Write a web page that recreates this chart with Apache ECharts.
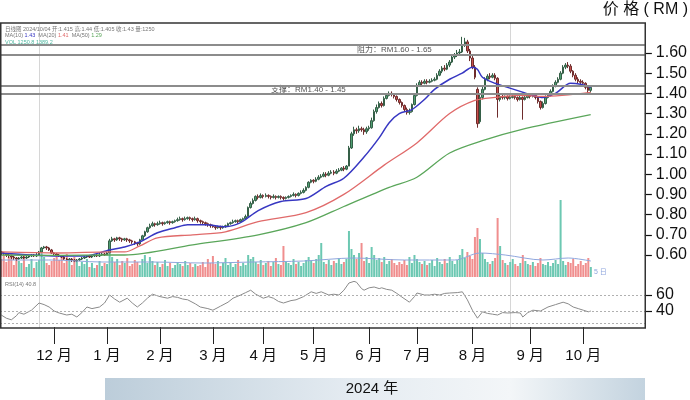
<!DOCTYPE html>
<html><head><meta charset="utf-8">
<script src="https://cdn.jsdelivr.net/npm/echarts@6/dist/echarts.min.js"></script>
<style>html,body{margin:0;padding:0;background:#fff}#c{width:690px;height:400px}</style>
</head><body><div id="c"></div>
<script>
const FONT = "'Liberation Sans','Noto Sans CJK SC',sans-serif";
const monthLabels = ['11 月','12 月','1 月','2 月','3 月','4 月','5 月','6 月','7 月','8 月','9 月','10 月'];
const monthTradingDays = [21,21,21,21,20,20,22,19,22,23,21,25];
const priceTicks = [0.6,0.7,0.8,0.9,1.0,1.1,1.2,1.3,1.4,1.5,1.6];
const rsiTicks = [40,60];
const resistance = [1.59, 1.64];
const support = [1.395, 1.44];
const guideDays = [15, 202];

// [open, close, low, high]
const ohlc = [
[.615,.61,.60,.62],[.61,.605,.60,.615],[.605,.60,.59,.61],[.60,.595,.585,.605],[.595,.59,.58,.60],[.59,.585,.575,.595],[.585,.58,.57,.59],[.58,.585,.575,.59],[.585,.59,.58,.595],[.59,.585,.58,.595],
[.585,.59,.58,.60],[.59,.595,.585,.60],[.595,.60,.59,.605],[.60,.595,.59,.605],[.595,.60,.59,.61],[.60,.615,.595,.62],[.615,.635,.61,.64],[.635,.64,.63,.645],[.64,.635,.625,.645],[.635,.625,.62,.64],
[.625,.61,.605,.63],[.61,.605,.60,.615],[.605,.60,.595,.61],[.60,.595,.59,.605],[.595,.59,.585,.60],[.59,.58,.575,.595],[.58,.575,.57,.585],[.575,.58,.57,.585],[.58,.575,.565,.585],[.575,.57,.565,.58],
[.57,.575,.565,.58],[.575,.58,.57,.585],[.58,.585,.575,.59],[.585,.59,.58,.595],[.59,.595,.585,.60],[.595,.59,.585,.60],[.59,.595,.585,.60],[.595,.60,.59,.605],[.60,.595,.59,.605],[.595,.60,.59,.61],
[.60,.605,.595,.61],[.605,.60,.595,.61],[.60,.61,.60,.615],[.61,.67,.61,.68],[.67,.68,.665,.69],[.68,.675,.665,.685],[.675,.685,.67,.69],[.685,.68,.67,.69],[.68,.675,.665,.685],[.675,.68,.67,.685],
[.68,.675,.665,.685],[.675,.67,.66,.68],[.67,.665,.655,.675],[.665,.66,.65,.67],[.66,.655,.645,.665],[.655,.675,.65,.68],[.675,.695,.67,.70],[.695,.715,.69,.72],[.715,.735,.71,.74],[.735,.745,.73,.755],
[.745,.755,.74,.765],[.755,.75,.74,.76],[.75,.755,.745,.765],[.755,.76,.75,.77],[.76,.755,.745,.765],[.755,.76,.75,.765],[.76,.765,.755,.77],[.765,.76,.75,.77],[.76,.765,.755,.77],[.765,.77,.76,.775],
[.77,.775,.765,.785],[.775,.78,.77,.79],[.78,.775,.765,.785],[.775,.78,.77,.79],[.78,.785,.775,.79],[.785,.78,.77,.79],[.78,.775,.765,.785],[.775,.78,.77,.79],[.78,.77,.76,.785],[.77,.765,.755,.775],
[.765,.76,.75,.77],[.76,.755,.745,.765],[.755,.75,.74,.76],[.75,.745,.735,.755],[.745,.74,.735,.75],[.74,.735,.725,.745],[.735,.74,.73,.745],[.74,.735,.725,.745],[.735,.74,.73,.745],[.74,.745,.735,.75],
[.745,.755,.74,.76],[.755,.76,.75,.765],[.76,.765,.755,.775],[.765,.77,.76,.775],[.77,.765,.755,.775],[.765,.775,.76,.78],[.775,.78,.77,.785],[.78,.79,.775,.80],[.79,.835,.79,.84],[.835,.855,.83,.865],
[.855,.87,.85,.88],[.87,.89,.865,.895],[.89,.885,.875,.90],[.885,.895,.88,.905],[.895,.89,.88,.90],[.89,.895,.885,.905],[.895,.89,.88,.90],[.89,.885,.875,.895],[.885,.89,.88,.90],[.89,.885,.875,.895],
[.885,.89,.88,.895],[.89,.885,.875,.895],[.885,.88,.87,.89],[.88,.885,.875,.89],[.885,.89,.88,.895],[.89,.895,.885,.90],[.895,.90,.89,.91],[.90,.895,.885,.905],[.895,.905,.89,.91],[.905,.91,.90,.92],
[.91,.92,.905,.93],[.92,.935,.915,.94],[.935,.96,.93,.965],[.96,.97,.955,.975],[.97,.965,.955,.975],[.965,.975,.96,.985],[.975,.985,.97,.995],[.985,.99,.98,1.00],[.99,1.00,.985,1.01],[1.00,.995,.985,1.01],
[.995,1.005,.99,1.015],[1.005,1.01,1.00,1.02],[1.01,1.005,.995,1.02],[1.005,1.015,1.00,1.025],[1.015,1.02,1.01,1.03],[1.02,1.03,1.015,1.035],[1.03,1.025,1.015,1.04],[1.025,1.04,1.02,1.045],[1.04,1.13,1.04,1.14],[1.13,1.20,1.125,1.21],
[1.20,1.22,1.19,1.235],[1.22,1.215,1.20,1.23],[1.215,1.225,1.205,1.24],[1.225,1.22,1.21,1.235],[1.22,1.21,1.195,1.23],[1.21,1.225,1.20,1.235],[1.225,1.23,1.215,1.24],[1.23,1.265,1.225,1.28],[1.265,1.31,1.26,1.32],[1.31,1.33,1.30,1.345],
[1.33,1.35,1.325,1.36],[1.35,1.34,1.33,1.36],[1.34,1.375,1.335,1.385],[1.375,1.39,1.37,1.40],[1.39,1.40,1.385,1.41],[1.40,1.395,1.385,1.41],[1.395,1.385,1.375,1.40],[1.385,1.37,1.36,1.39],[1.37,1.355,1.345,1.375],[1.355,1.34,1.33,1.36],
[1.34,1.32,1.31,1.345],[1.32,1.305,1.295,1.33],[1.305,1.31,1.295,1.325],[1.31,1.345,1.305,1.35],[1.345,1.39,1.34,1.40],[1.39,1.44,1.385,1.45],[1.44,1.455,1.435,1.465],[1.455,1.45,1.44,1.465],[1.45,1.46,1.445,1.47],[1.46,1.455,1.445,1.47],
[1.455,1.46,1.45,1.47],[1.46,1.465,1.455,1.475],[1.465,1.47,1.46,1.48],[1.47,1.49,1.465,1.50],[1.49,1.51,1.485,1.52],[1.51,1.525,1.50,1.535],[1.525,1.52,1.51,1.54],[1.52,1.54,1.515,1.55],[1.54,1.555,1.53,1.565],[1.555,1.58,1.55,1.59],
[1.58,1.59,1.57,1.60],[1.59,1.60,1.58,1.615],[1.60,1.605,1.59,1.62],[1.605,1.64,1.60,1.68],[1.64,1.655,1.63,1.675],[1.655,1.61,1.60,1.665],[1.61,1.575,1.56,1.62],[1.575,1.53,1.52,1.585],[1.53,1.48,1.47,1.54],[1.42,1.25,1.23,1.43],
[1.26,1.38,1.25,1.40],[1.38,1.42,1.37,1.435],[1.42,1.47,1.415,1.48],[1.47,1.485,1.46,1.495],[1.485,1.48,1.47,1.50],[1.48,1.49,1.475,1.50],[1.49,1.475,1.465,1.50],[1.475,1.37,1.28,1.48],[1.37,1.385,1.36,1.395],[1.385,1.38,1.37,1.395],
[1.38,1.385,1.37,1.39],[1.385,1.375,1.365,1.39],[1.375,1.38,1.37,1.39],[1.38,1.385,1.375,1.395],[1.385,1.38,1.37,1.39],[1.38,1.37,1.36,1.385],[1.37,1.38,1.365,1.39],[1.38,1.37,1.27,1.385],[1.37,1.38,1.365,1.39],[1.38,1.39,1.375,1.40],
[1.39,1.385,1.375,1.40],[1.385,1.39,1.38,1.40],[1.39,1.38,1.37,1.395],[1.38,1.36,1.35,1.385],[1.36,1.33,1.32,1.365],[1.33,1.35,1.325,1.36],[1.35,1.38,1.345,1.39],[1.38,1.39,1.375,1.40],[1.39,1.41,1.385,1.42],[1.41,1.435,1.405,1.445],
[1.435,1.455,1.43,1.465],[1.455,1.47,1.45,1.48],[1.47,1.50,1.465,1.51],[1.50,1.53,1.495,1.54],[1.53,1.54,1.52,1.55],[1.54,1.535,1.525,1.555],[1.535,1.51,1.50,1.545],[1.51,1.49,1.48,1.515],[1.49,1.47,1.46,1.50],[1.47,1.46,1.45,1.48],
[1.46,1.455,1.445,1.47],[1.455,1.45,1.44,1.465],[1.45,1.43,1.42,1.455],[1.43,1.415,1.40,1.44],[1.415,1.43,1.405,1.44]
];

const volume = [
18,22,15,20,24,12,19,16,14,21,10,13,18,9,15,17,26,20,14,12,16,
19,22,17,21,14,23,18,12,20,16,11,15,13,18,10,14,9,12,16,11,14,13,
24,20,15,18,12,16,14,19,11,13,17,15,12,
18,22,14,20,16,12,15,10,13,17,11,14,9,12,15,13,11,16,12,14,10,13,11,
12,15,10,18,14,21,13,16,11,14,19,12,15,10,13,17,11,14,12,
22,18,20,15,13,17,12,14,16,11,15,19,13,12,31,16,14,12,18,13,15,11,14,17,
20,16,14,18,22,34,15,13,17,12,16,14,19,13,15,18,
46,28,22,18,24,34,16,20,14,30,22,17,19,15,20,13,16,18,14,12,15,
13,17,12,20,14,22,18,15,13,16,12,14,17,11,19,15,13,18,14,20,16,13,17,22,28,19,25,21,18,40,
49,38,24,18,15,13,16,19,59,31,17,14,12,15,18,13,11,14,22,
16,13,12,15,11,14,19,13,12,15,11,14,17,13,77,16,12,15,14,18,11,13,16,12,14,19,10
];

const maShort = [[0,.61],[12,.60],[23,.595],[33,.595],[43,.625],[49,.64],[55,.665],[62,.71],[69,.735],[74,.75],[81,.75],[89,.74],[95,.76],[102,.82],[111,.865],[121,.88],[129,.94],[136,.98],[144,1.085],[150,1.18],[154,1.255],[158,1.30],[163,1.32],[168,1.37],[172,1.42],[178,1.47],[183,1.50],[187,1.53],[189,1.52],[191,1.48],[196,1.45],[201,1.43],[206,1.41],[211,1.39],[215,1.38],[220,1.40],[226,1.45],[230,1.445],[234,1.43]];
const maMid = [[0,.615],[23,.61],[43,.615],[49,.615],[55,.645],[62,.685],[76,.70],[89,.715],[102,.765],[121,.81],[136,.90],[152,1.045],[165,1.155],[178,1.30],[188,1.365],[196,1.38],[206,1.39],[215,1.385],[234,1.405]];
const maLong = [[0,.60],[23,.598],[43,.60],[49,.60],[76,.65],[102,.70],[121,.76],[136,.84],[154,.935],[165,.985],[178,1.105],[192,1.17],[206,1.22],[234,1.295]];
const volAvg = [[0,17],[20,17],[40,15],[60,15],[80,14],[100,15],[120,16],[140,19],[160,17],[180,17],[190,24],[200,22],[215,17],[225,19],[234,16]];
const rsi = [[0,35],[2,31],[4,29],[6,34],[7,38],[9,36],[12,41],[15,50],[17,48],[19,45],[21,40],[23,37.5],[26,35],[28,36],[30,32.5],[32,38],[34,45],[36,43],[39,45],[41,50],[43,60],[45,55],[47,51],[50,56],[52,50],[54,45],[56,50],[58,56],[60,61],[63,58],[66,56],[68,58],[70,57],[72,55],[74,54],[77,49],[79,45],[82,43],[84,41],[87,46],[90,51],[92,56],[95,60],[97,63],[99,66],[101,61],[104,56],[106,58],[108,56],[110,52],[112,50],[115,53],[117,54],[120,58],[123,64],[125,62],[127,64],[130,60],[132,61],[134,60],[136,66],[138,75],[140,77],[141,76],[143,68],[144,66],[146,69],[148,70],[150,68],[151,69],[153,67],[155,66],[157,62],[159,57.5],[162,51],[164,58],[165,62.5],[168,60],[170,60],[172,61],[174,60],[176,62],[178,62.5],[181,63],[183,64],[185,54],[187,41],[189,31],[191,39],[193,37],[195,36],[197,35],[199,38],[201,37.5],[204,38],[206,37.5],[207,32.5],[209,38],[211,41],[214,40],[217,45],[220,48],[223,51],[225,49],[227,45],[229,43],[231,41],[233,39],[234,40]];
const rsiGuides = [60, 40, 25];

// categories: one slot per trading day
const categories = [];
monthTradingDays.forEach((n, m) => { for (let d = 0; d < n; d++) categories.push(m + '-' + d); });
const isMonthStart = (idx, val) => { const p = val.split('-'); return p[1] === '0' && p[0] !== '0'; };

const UP = '#4f9e72', DOWN = '#c9504c';
const chart = echarts.init(document.getElementById('c'), null, {renderer: 'canvas'});
const xBase = g => ({
  type: 'category', gridIndex: g, data: categories, boundaryGap: true, show: g === 2,
  axisLine: {show: false}, splitLine: {show: false},
  axisTick: {show: true, alignWithLabel: true, length: 17, interval: isMonthStart, lineStyle: {color: '#222', width: 1}},
  axisLabel: {interval: isMonthStart, formatter: v => monthLabels[+v.split('-')[0]], fontSize: 15, color: '#111', margin: 21, fontFamily: FONT}
});
chart.setOption({
  animation: false,
  textStyle: {fontFamily: FONT},
  grid: [
    {left: 0, width: 645, top: 22.7, height: 252.5},
    {left: 0, width: 645, top: 197, height: 80},
    {left: 0, width: 645, top: 279, height: 48}
  ],
  xAxis: [xBase(0), xBase(1), xBase(2)],
  yAxis: [
    {gridIndex: 0, position: 'right', min: 0.5, max: 1.75, axisLine: {show: false}, splitLine: {show: false},
     axisTick: {show: true, length: 7, customValues: priceTicks, lineStyle: {color: '#111', width: 1.2}},
     axisLabel: {customValues: priceTicks, formatter: v => (v >= 0.595 && v <= 1.605) ? v.toFixed(2) : '', fontSize: 16, color: '#111', margin: 11, fontFamily: FONT}},
    {gridIndex: 1, min: 0, max: 80, show: false},
    {gridIndex: 2, position: 'right', min: 20, max: 80, axisLine: {show: false}, splitLine: {show: false},
     axisTick: {show: true, length: 7, customValues: rsiTicks, lineStyle: {color: '#111', width: 1.2}},
     axisLabel: {customValues: rsiTicks, formatter: v => (v === 40 || v === 60) ? String(v) : '', fontSize: 16, color: '#111', margin: 11, fontFamily: FONT}}
  ],
  series: [
    {type: 'candlestick', xAxisIndex: 0, yAxisIndex: 0, data: ohlc, barWidth: 2,
     itemStyle: {color: UP, color0: DOWN, borderColor: '#355f47', borderColor0: '#6e2c2c', borderWidth: 1},
     markLine: {silent: true, symbol: ['none', 'none'], label: {show: false},
       lineStyle: {color: '#8c8c8c', width: 2, type: 'solid'},
       data: resistance.concat(support).map(v => ({yAxis: v}))},
     markArea: {silent: true, itemStyle: {color: 'rgba(0,0,0,0)'},
       data: [
         [{yAxis: resistance[0], name: '阻力：RM1.60 - 1.65', label: {offset: [72, 0]}}, {yAxis: resistance[1]}],
         [{yAxis: support[0], name: '支撑：RM1.40 - 1.45', label: {offset: [-14, 0]}}, {yAxis: support[1]}]
       ],
       label: {show: true, position: 'inside', fontSize: 8, color: '#555'}}
    },
    {type: 'line', xAxisIndex: 0, yAxisIndex: 0, data: maShort, showSymbol: false, smooth: 0.3, lineStyle: {color: '#3737c2', width: 1.5}, z: 3},
    {type: 'line', xAxisIndex: 0, yAxisIndex: 0, data: maMid, showSymbol: false, smooth: 0.3, lineStyle: {color: '#e06a6a', width: 1.3}, z: 3},
    {type: 'line', xAxisIndex: 0, yAxisIndex: 0, data: maLong, showSymbol: false, smooth: 0.3, lineStyle: {color: '#5aa65a', width: 1.3}, z: 3},
    {type: 'bar', xAxisIndex: 1, yAxisIndex: 1, data: volume, barWidth: 2,
     itemStyle: {color: p => ohlc[p.dataIndex][1] >= ohlc[p.dataIndex][0] ? '#6cc8b2' : '#f08e8e'}},
    {type: 'line', xAxisIndex: 1, yAxisIndex: 1, data: volAvg, showSymbol: false, smooth: 0.3, lineStyle: {color: '#8fa6dd', width: 1}},
    {type: 'line', xAxisIndex: 2, yAxisIndex: 2, data: rsi, showSymbol: false, lineStyle: {color: '#8a8a8a', width: 1},
     markLine: {silent: true, symbol: ['none', 'none'], label: {show: false},
       lineStyle: {color: '#b0b0b0', width: 1, type: [2, 2]},
       data: rsiGuides.map(v => ({yAxis: v}))}}
  ],
  graphic: [
    {type: 'rect', z: 100, shape: {x: 105, y: 378, width: 540, height: 22},
     style: {fill: new echarts.graphic.LinearGradient(0, 0, 1, 0, [
       {offset: 0, color: '#bccdda'}, {offset: 0.45, color: '#e4ebf1'}, {offset: 0.75, color: '#f3f6f8'}, {offset: 1, color: '#c3d3df'}])}},
    {type: 'text', z: 101, x: 372, y: 389, style: {text: '2024 年', fill: '#111', align: 'center', verticalAlign: 'middle', font: '15px ' + FONT}},
    {type: 'text', z: 101, x: 688, y: 10, style: {text: '价 格 ( RM )', fill: '#111', align: 'right', verticalAlign: 'middle', font: '16px ' + FONT}},
    {type: 'rect', z: 100, shape: {x: 0.75, y: 23, width: 644.5, height: 305}, style: {fill: 'none', stroke: '#333', lineWidth: 1.5}},
    {type: 'text', z: 101, x: 5, y: 29, style: {text: '日线图 2024/10/04 开:1.415 高:1.44 低:1.405 收:1.43 量:1250', fill: '#777', verticalAlign: 'middle', font: '5.5px ' + FONT}},
    {type: 'text', z: 101, x: 5, y: 35, style: {text: '{g|MA(10)} {b|1.43}  {g|MA(20)} {r|1.41}  {g|MA(50)} {k|1.29}', verticalAlign: 'middle', font: '5.5px ' + FONT,
      rich: {g: {fill: '#777', font: '5.5px ' + FONT}, b: {fill: '#3737c2', font: '5.5px ' + FONT}, r: {fill: '#e06a6a', font: '5.5px ' + FONT}, k: {fill: '#5aa65a', font: '5.5px ' + FONT}}}},
    {type: 'text', z: 101, x: 5, y: 42, style: {text: 'VOL 1250.8 1389.2', fill: '#4fb7a0', verticalAlign: 'middle', font: '5.5px ' + FONT}},
    {type: 'text', z: 101, x: 5, y: 284, style: {text: 'RSI(14) 40.8', fill: '#777', verticalAlign: 'middle', font: '5.5px ' + FONT}},
    {type: 'text', z: 101, x: 594, y: 272, style: {text: '5 日', fill: '#8fa6dd', verticalAlign: 'middle', font: '7px ' + FONT}}
  ]
});
// vertical guide lines at selected days (positions derived from the axis)
const extra = guideDays.map(d => {
  const x = Math.round(chart.convertToPixel({xAxisIndex: 0}, d)) + 0.5;
  return {type: 'line', z: 1, shape: {x1: x, y1: 23, x2: x, y2: 328}, style: {stroke: '#d6d6d6', lineWidth: 1}};
});
const opt = chart.getOption();
chart.setOption({graphic: opt.graphic[0].elements.concat(extra)}, {replaceMerge: []});
</script>
</body></html>
